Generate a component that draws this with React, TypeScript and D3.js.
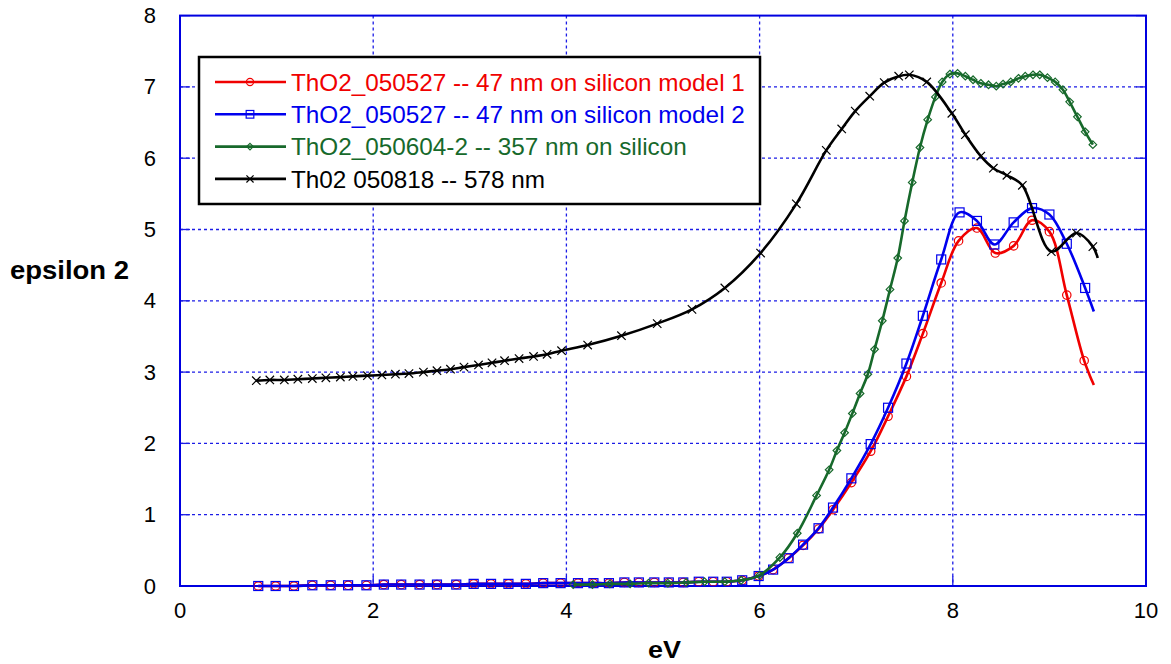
import React from "react";
import * as d3 from "d3";

// photon energy (eV) and epsilon 2 values
const redX = [0.81, 0.99, 1.18, 1.37, 1.56, 1.74, 1.93, 2.11, 2.29, 2.48, 2.66, 2.86, 3.04, 3.22, 3.4, 3.58, 3.76, 3.94, 4.12, 4.28, 4.44, 4.6, 4.75, 4.91, 5.06, 5.21, 5.37, 5.52, 5.66, 5.82, 5.99, 6.14, 6.3, 6.45, 6.61, 6.76, 6.95, 7.15, 7.33, 7.52, 7.69, 7.88, 8.06, 8.25, 8.44, 8.63, 8.82, 9.0, 9.18, 9.36, 9.46];
const redY = [0.0, 0.0, 0.0, 0.01, 0.01, 0.01, 0.01, 0.02, 0.02, 0.02, 0.02, 0.02, 0.03, 0.03, 0.03, 0.03, 0.04, 0.04, 0.04, 0.04, 0.04, 0.05, 0.05, 0.05, 0.05, 0.05, 0.06, 0.06, 0.06, 0.08, 0.14, 0.23, 0.39, 0.57, 0.8, 1.07, 1.45, 1.89, 2.38, 2.94, 3.54, 4.25, 4.84, 5.02, 4.67, 4.77, 5.13, 4.97, 4.08, 3.16, 2.82];

const blueX = [0.81, 0.99, 1.18, 1.37, 1.56, 1.74, 1.93, 2.11, 2.29, 2.48, 2.66, 2.86, 3.04, 3.22, 3.4, 3.58, 3.76, 3.94, 4.12, 4.28, 4.44, 4.6, 4.75, 4.91, 5.06, 5.21, 5.37, 5.52, 5.66, 5.82, 5.99, 6.14, 6.3, 6.45, 6.61, 6.76, 6.95, 7.15, 7.33, 7.52, 7.69, 7.88, 8.07, 8.25, 8.43, 8.63, 8.82, 9.0, 9.18, 9.37, 9.46];
const blueY = [0.0, 0.0, 0.0, 0.01, 0.01, 0.01, 0.01, 0.02, 0.02, 0.02, 0.02, 0.02, 0.03, 0.03, 0.03, 0.03, 0.04, 0.04, 0.04, 0.04, 0.04, 0.05, 0.05, 0.05, 0.05, 0.05, 0.06, 0.06, 0.06, 0.08, 0.14, 0.23, 0.39, 0.58, 0.81, 1.1, 1.51, 1.99, 2.5, 3.12, 3.79, 4.58, 5.24, 5.12, 4.79, 5.1, 5.3, 5.21, 4.8, 4.18, 3.85];

const greenX = [4.07, 4.27, 4.45, 4.66, 4.85, 5.05, 5.24, 5.43, 5.64, 5.81, 6.0, 6.21, 6.39, 6.59, 6.72, 6.8, 6.88, 6.96, 7.04, 7.12, 7.19, 7.27, 7.35, 7.43, 7.5, 7.58, 7.66, 7.74, 7.82, 7.89, 7.97, 8.05, 8.13, 8.21, 8.29, 8.37, 8.45, 8.52, 8.6, 8.68, 8.75, 8.83, 8.9, 8.98, 9.06, 9.14, 9.21, 9.29, 9.37, 9.45];
const greenY = [0.02, 0.02, 0.03, 0.03, 0.04, 0.04, 0.05, 0.06, 0.06, 0.08, 0.15, 0.4, 0.74, 1.27, 1.63, 1.9, 2.15, 2.42, 2.7, 2.97, 3.32, 3.72, 4.16, 4.6, 5.12, 5.66, 6.15, 6.54, 6.86, 7.07, 7.18, 7.19, 7.15, 7.1, 7.05, 7.03, 7.01, 7.04, 7.07, 7.12, 7.15, 7.17, 7.17, 7.13, 7.07, 6.96, 6.79, 6.58, 6.37, 6.19];

const blackX = [0.79, 0.93, 1.08, 1.22, 1.37, 1.51, 1.66, 1.79, 1.94, 2.09, 2.23, 2.37, 2.52, 2.66, 2.8, 2.94, 3.09, 3.23, 3.36, 3.51, 3.66, 3.8, 3.95, 4.22, 4.57, 4.94, 5.3, 5.64, 6.01, 6.38, 6.69, 6.85, 6.99, 7.14, 7.29, 7.44, 7.55, 7.73, 7.99, 8.13, 8.29, 8.42, 8.56, 8.72, 9.02, 9.28, 9.45, 9.5];
const blackY = [2.88, 2.89, 2.89, 2.9, 2.91, 2.92, 2.93, 2.94, 2.95, 2.96, 2.97, 2.98, 3.0, 3.02, 3.04, 3.07, 3.1, 3.13, 3.16, 3.19, 3.22, 3.25, 3.3, 3.38, 3.51, 3.68, 3.88, 4.18, 4.67, 5.36, 6.11, 6.41, 6.66, 6.87, 7.06, 7.15, 7.17, 7.07, 6.63, 6.33, 6.03, 5.86, 5.76, 5.62, 4.69, 4.95, 4.76, 4.6];

const seriesNames = [
  "ThO2_050527 -- 47 nm on silicon model 1",
  "ThO2_050527 -- 47 nm on silicon model 2",
  "ThO2_050604-2 -- 357 nm on silicon",
  "Th02 050818 -- 578 nm",
];
const xTicks = [0, 2, 4, 6, 8, 10];
const yTicks = [0, 1, 2, 3, 4, 5, 6, 7, 8];

const FONT = "'Liberation Sans', Arial, sans-serif";
const GRID = "#1c1ce6";

type Pt = { x: number; y: number };

const zip = (xs: number[], ys: number[]): Pt[] => xs.map((x, i) => ({ x, y: ys[i] }));

// lastUnmarked: the curve runs on past the last symbol
const series = [
  { name: seriesNames[0], data: zip(redX, redY), color: "#f00000", marker: "circle", lastUnmarked: true },
  { name: seriesNames[1], data: zip(blueX, blueY), color: "#0000ee", marker: "square", lastUnmarked: true },
  { name: seriesNames[2], data: zip(greenX, greenY), color: "#17692b", marker: "diamond", lastUnmarked: false },
  { name: seriesNames[3], data: zip(blackX, blackY), color: "#000000", marker: "cross", lastUnmarked: true },
];

function Marker({ kind, cx, cy, color, s = 1 }: { kind: string; cx: number; cy: number; color: string; s?: number }) {
  const common = { fill: "none", stroke: color, strokeWidth: 1.2 };
  if (kind === "circle") return <circle cx={cx} cy={cy} r={4.2 * s} {...common} />;
  if (kind === "square") {
    const h = 4.5 * s;
    return <rect x={cx - h} y={cy - h} width={2 * h} height={2 * h} {...common} />;
  }
  if (kind === "diamond") {
    const h = 3.8 * s;
    return <path d={`M${cx},${cy - h}L${cx + h},${cy}L${cx},${cy + h}L${cx - h},${cy}Z`} {...common} />;
  }
  const h = 4.2 * s;
  return <path d={`M${cx - h},${cy - h}L${cx + h},${cy + h}M${cx - h},${cy + h}L${cx + h},${cy - h}`} {...common} />;
}

export default function App() {
  const width = 1171;
  const height = 664;
  const left = 180, right = 1146, top = 15.6, bottom = 586;

  const x = d3.scaleLinear().domain([0, 10]).range([left, right]);
  const y = d3.scaleLinear().domain([0, 8]).range([bottom, top]);

  const line = d3
    .line<Pt>()
    .x((d) => x(d.x))
    .y((d) => y(d.y))
    .curve(d3.curveCatmullRom.alpha(0.5));

  const tick = 10;

  return (
    <svg
      width={width}
      height={height}
      style={{ position: "absolute", left: 0, top: 0, background: "#fff" }}
      fontFamily={FONT}
    >
      {/* grid */}
      {yTicks.slice(1, -1).map((t) => (
        <line key={"gy" + t} x1={left} x2={right} y1={y(t)} y2={y(t)} stroke={GRID} strokeWidth={1.3} strokeDasharray="3,3" />
      ))}
      {xTicks.slice(1, -1).map((t) => (
        <line key={"gx" + t} x1={x(t)} x2={x(t)} y1={top} y2={bottom} stroke={GRID} strokeWidth={1.3} strokeDasharray="3,3" />
      ))}

      {/* inner tick marks */}
      {yTicks.map((t) => (
        <g key={"ty" + t}>
          <line x1={left} x2={left + tick} y1={y(t)} y2={y(t)} stroke={GRID} strokeWidth={1.3} />
          <line x1={right - tick} x2={right} y1={y(t)} y2={y(t)} stroke={GRID} strokeWidth={1.3} />
        </g>
      ))}
      {xTicks.map((t) => (
        <line key={"tx" + t} x1={x(t)} x2={x(t)} y1={bottom} y2={bottom - tick} stroke={GRID} strokeWidth={1.3} />
      ))}

      {/* plot frame */}
      <rect x={left} y={top} width={right - left} height={bottom - top} fill="none" stroke="#0000e0" strokeWidth={2} />

      {/* series */}
      {series.map((s) => {
        const pts = s.lastUnmarked ? s.data.slice(0, -1) : s.data;
        return (
          <g key={s.name}>
            <path d={line(s.data) ?? ""} fill="none" stroke={s.color} strokeWidth={2.6} />
            {pts.map((d, i) => (
              <Marker key={i} kind={s.marker} cx={x(d.x)} cy={y(d.y)} color={s.color} />
            ))}
          </g>
        );
      })}

      {/* tick labels */}
      {yTicks.map((t) => (
        <text key={"ly" + t} x={left - 24} y={y(t) + 7.5} textAnchor="end" fontSize={22} fill="#000">
          {t}
        </text>
      ))}
      {xTicks.map((t) => (
        <text key={"lx" + t} x={x(t)} y={bottom + 32} textAnchor="middle" fontSize={22} fill="#000">
          {t}
        </text>
      ))}

      {/* axis titles */}
      <text x={10} y={279} fontSize={25} fontWeight="bold" textLength={119} lengthAdjust="spacingAndGlyphs">
        epsilon 2
      </text>
      <text x={648} y={658} fontSize={23} fontWeight="bold" textLength={33} lengthAdjust="spacingAndGlyphs">
        eV
      </text>

      {/* legend */}
      <g>
        <rect x={199} y={57} width={561} height={147} fill="#fff" stroke="#000" strokeWidth={2.5} />
        {series.map((s, i) => {
          const ry = 82 + i * 32.3;
          return (
            <g key={"lg" + i}>
              <line x1={215} x2={286} y1={ry} y2={ry} stroke={s.color} strokeWidth={2.6} />
              <Marker kind={s.marker} cx={250} cy={ry} color={s.color} s={0.85} />
              <text x={291} y={ry + 8.8} fontSize={24.3} fill={s.color}>
                {s.name}
              </text>
            </g>
          );
        })}
      </g>
    </svg>
  );
}
